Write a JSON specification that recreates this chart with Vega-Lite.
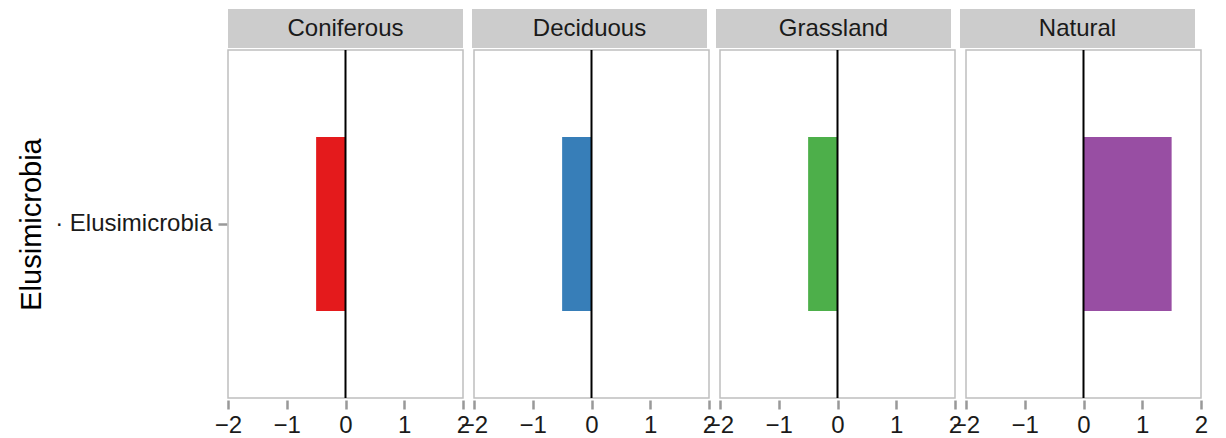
{
  "$schema": "https://vega.github.io/schema/vega-lite/v6.json",
  "padding": {"left": 17, "top": 9, "right": 5, "bottom": 0},
  "background": "white",
  "config": {
    "font": "Liberation Sans",
    "concat": {"spacing": 0},
    "axis": {"grid": false, "domain": false, "labelColor": "#1a1a1a", "labelFontSize": 24, "tickColor": "#999999", "tickSize": 9, "tickWidth": 2.5}
  },
  "data": {"values": [
    {"land": "Coniferous", "phylum": "Elusimicrobia", "value": -0.5},
    {"land": "Deciduous", "phylum": "Elusimicrobia", "value": -0.5},
    {"land": "Grassland", "phylum": "Elusimicrobia", "value": -0.5},
    {"land": "Natural", "phylum": "Elusimicrobia", "value": 1.5}
  ]},
  "vconcat": [
    {
      "facet": {"column": {"field": "land", "type": "nominal", "header": {"title": null, "labels": false}}},
      "spacing": 9,
      "spec": {
        "width": 235,
        "height": 39,
        "view": {"fill": "#cccccc", "stroke": null},
        "mark": {"type": "text", "fontSize": 24, "color": "#1a1a1a", "baseline": "middle", "align": "center"},
        "encoding": {
          "text": {"field": "land"},
          "y": {"field": "phylum", "type": "nominal", "axis": {"title": "E", "titleFontSize": 29, "titleFontWeight": "normal", "titleColor": "transparent", "labelColor": "transparent", "tickColor": "transparent", "labelExpr": "'· ' + datum.label", "labelPadding": 6, "titlePadding": 8}}
        }
      }
    },
    {
      "facet": {"column": {"field": "land", "type": "nominal", "header": {"title": null, "labels": false}}},
      "spacing": 9,
      "spec": {
        "width": 235,
        "height": 348,
        "view": {"stroke": "#bfbfbf", "strokeWidth": 1.5, "fill": "white"},
        "layer": [
          {
            "mark": {"type": "bar"},
            "encoding": {
              "y": {"field": "phylum", "type": "nominal", "scale": {"paddingInner": 0.5, "paddingOuter": 0.25}, "axis": {"title": "Elusimicrobia", "titleFontSize": 29, "titleFontWeight": "normal", "titleColor": "#000000", "labelExpr": "'· ' + datum.label", "labelPadding": 6, "titlePadding": 8}},
              "x": {"field": "value", "type": "quantitative", "scale": {"domain": [-2, 2], "nice": false}, "axis": {"title": null, "values": [-2, -1, 0, 1, 2], "labelExpr": "replace(format(datum.value, 'd'), '-', '−')", "labelFlush": false, "labelOverlap": false, "labelPadding": 4}},
              "x2": {"datum": 0},
              "color": {"field": "land", "type": "nominal", "scale": {"domain": ["Coniferous", "Deciduous", "Grassland", "Natural"], "range": ["#e41a1c", "#377eb8", "#4daf4a", "#984ea3"]}, "legend": null}
            }
          },
          {
            "mark": {"type": "rule", "color": "black", "strokeWidth": 2},
            "encoding": {"x": {"datum": 0}}
          }
        ]
      }
    }
  ]
}
